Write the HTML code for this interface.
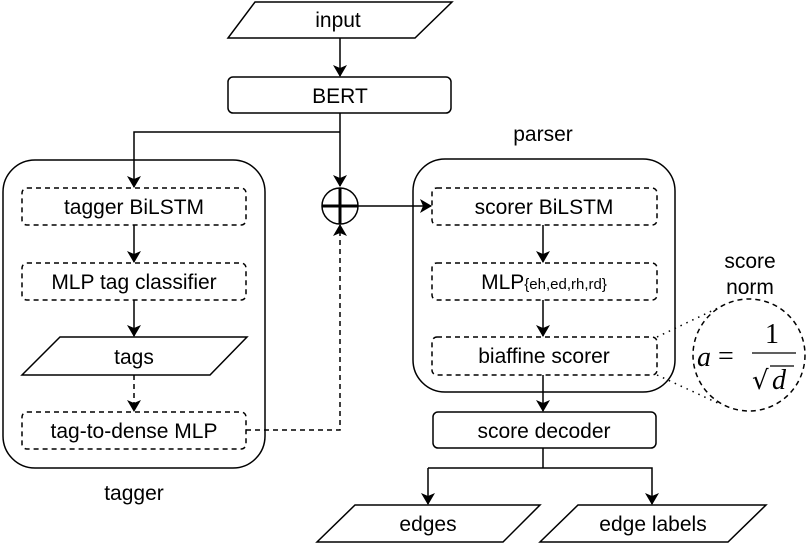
<!DOCTYPE html>
<html><head><style>body{margin:0;background:#fff}svg{display:block}text{font-family:"Liberation Sans",Arial,sans-serif;font-size:21px;fill:#000}</style></head><body>
<svg width="810" height="545" viewBox="0 0 810 545" xmlns="http://www.w3.org/2000/svg">
<defs><marker id="a" markerWidth="12" markerHeight="14" refX="11" refY="7" orient="auto" markerUnits="userSpaceOnUse"><path d="M0,0 L12,7 L0,14 L3,7 Z" fill="#000"/></marker></defs>
<g fill="none" stroke="#000" stroke-width="1.5">
<polygon points="255,2 452,2 415,38 228,38"/>
<rect x="228" y="77" width="223" height="36" rx="5"/>
<line x1="340" y1="38" x2="340" y2="76" marker-end="url(#a)"/>
<line x1="340" y1="113" x2="340" y2="186" marker-end="url(#a)"/>
<polyline points="340,132 134,132 134,187" marker-end="url(#a)"/>
<rect x="3" y="160" width="262" height="308" rx="32"/>
<rect x="413" y="159" width="262" height="233" rx="32"/>
<circle cx="340" cy="206" r="18"/>
<line x1="322" y1="206" x2="358" y2="206" stroke-width="3"/>
<line x1="340" y1="188" x2="340" y2="224" stroke-width="3"/>
<line x1="358" y1="206" x2="431" y2="206" marker-end="url(#a)"/>
<g stroke-dasharray="5,4">
<rect x="22" y="188" width="224" height="37" rx="5"/>
<rect x="22" y="263" width="224" height="37" rx="5"/>
<rect x="22" y="412" width="224" height="37" rx="5"/>
<rect x="432" y="188" width="225" height="37" rx="5"/>
<rect x="432" y="263" width="225" height="37" rx="5"/>
<rect x="432" y="337" width="225" height="38" rx="5"/>
<line x1="134" y1="375" x2="134" y2="411" marker-end="url(#a)"/>
<polyline points="246,430 340,430 340,225" marker-end="url(#a)"/>
<circle cx="749" cy="355" r="56"/>
</g>
<polygon points="60,337 247,337 210,375 22,375"/>
<line x1="134" y1="225" x2="134" y2="262" marker-end="url(#a)"/>
<line x1="134" y1="300" x2="134" y2="336" marker-end="url(#a)"/>
<line x1="543" y1="225" x2="543" y2="262" marker-end="url(#a)"/>
<line x1="543" y1="300" x2="543" y2="336" marker-end="url(#a)"/>
<line x1="543" y1="375" x2="543" y2="411" marker-end="url(#a)"/>
<rect x="433" y="412" width="223" height="36" rx="5"/>
<line x1="543" y1="448" x2="543" y2="468"/>
<polyline points="428,468 428,504" marker-end="url(#a)"/>
<polyline points="428,468 652,468 652,504" marker-end="url(#a)"/>
<polygon points="355,505 540,505 503,542 317,542"/>
<polygon points="578,505 766,505 728,542 540,542"/>
<g stroke-dasharray="1.5,5"><line x1="657" y1="337" x2="722" y2="306"/><line x1="657" y1="375" x2="722" y2="405"/></g>
</g>
<g text-anchor="middle">
<text x="338" y="27">input</text>
<text x="340" y="103">BERT</text>
<text x="134" y="214">tagger BiLSTM</text>
<text x="134" y="289">MLP tag classifier</text>
<text x="134" y="364">tags</text>
<text x="134" y="438">tag-to-dense MLP</text>
<text x="134" y="500">tagger</text>
<text x="543" y="141">parser</text>
<text x="544" y="214">scorer BiLSTM</text>
<text x="544" y="289">MLP<tspan font-size="15">{eh,ed,rh,rd}</tspan></text>
<text x="544" y="363">biaffine scorer</text>
<text x="544" y="438">score decoder</text>
<text x="428" y="531">edges</text>
<text x="653" y="531">edge labels</text>
<text x="750" y="268">score</text>
<text x="750" y="294">norm</text>
</g>
<text x="697" y="366" style="font-family:'Liberation Serif',serif;font-size:28px;font-style:italic">a</text>
<text x="718" y="365" style="font-family:'Liberation Serif',serif;font-size:28px">=</text>
<text x="772" y="343" text-anchor="middle" style="font-family:'Liberation Serif',serif;font-size:28px">1</text>
<line x1="752" y1="353" x2="796" y2="353" stroke="#000" stroke-width="1.3"/>
<text x="752" y="389" style="font-family:'DejaVu Sans',sans-serif;font-size:26px">√</text>
<line x1="770" y1="366" x2="794" y2="366" stroke="#000" stroke-width="1.3"/>
<text x="772" y="389" style="font-family:'Liberation Serif',serif;font-size:28px;font-style:italic">d</text>
</svg>
</body></html>
